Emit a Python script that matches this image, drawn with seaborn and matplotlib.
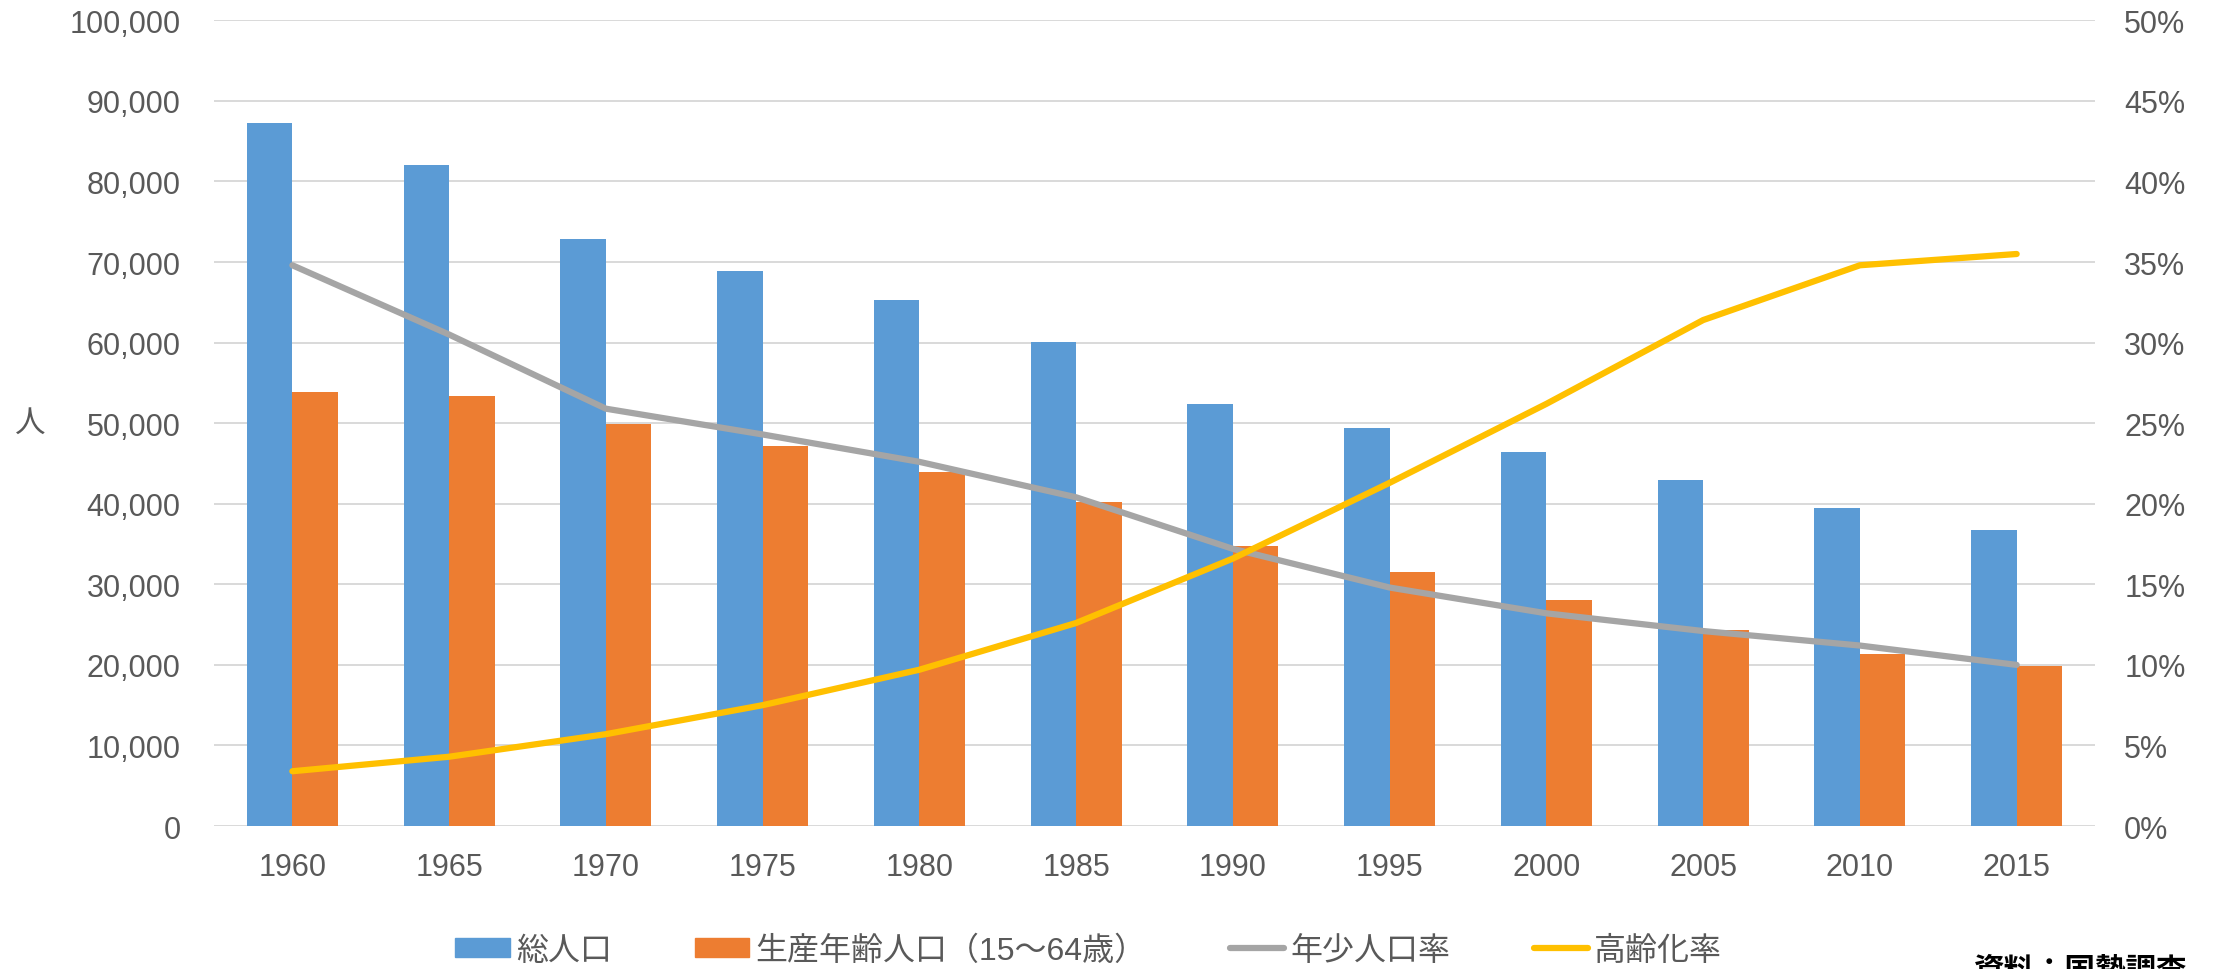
import numpy as np
import pandas as pd
import matplotlib
matplotlib.use("Agg")
import matplotlib.pyplot as plt
import matplotlib.patches as mpatches
from matplotlib.lines import Line2D
from matplotlib.legend_handler import HandlerPatch
from matplotlib.ticker import FuncFormatter, MultipleLocator
import seaborn as sns

# ---- data ----
years = ["1960", "1965", "1970", "1975", "1980", "1985",
         "1990", "1995", "2000", "2005", "2010", "2015"]
total_pop = [87300, 82100, 72900, 68900, 65300, 60100,
             52400, 49400, 46400, 42950, 39500, 36750]
working_pop = [53850, 53350, 49900, 47150, 43960, 40250,
               34800, 31550, 28050, 24330, 21350, 19900]
youth_ratio = [0.348, 0.305, 0.259, 0.243, 0.226, 0.204,
               0.172, 0.148, 0.132, 0.121, 0.112, 0.100]
aging_ratio = [0.034, 0.043, 0.057, 0.075, 0.097, 0.126,
               0.166, 0.213, 0.262, 0.314, 0.348, 0.355]

series_names = ["総人口", "生産年齢人口（15〜64歳）", "年少人口率", "高齢化率"]
bar_colors = ["#5B9BD5", "#ED7D31"]
line_colors = ["#A5A5A5", "#FFC000"]

sns.set_theme(style="white")
plt.rcParams["font.family"] = ["Liberation Sans", "Noto Sans CJK JP", "DejaVu Sans"]

text_color = "#595959"
grid_color = "#D9D9D9"
fs = 22
legend_fs = 23

df = pd.DataFrame({
    "year": years * 2,
    "value": total_pop + working_pop,
    "series": [series_names[0]] * len(years) + [series_names[1]] * len(years),
})

fig = plt.figure(figsize=(22.13, 9.70), dpi=100)
ax = fig.add_axes([0.0967, 0.1474, 0.85, 0.8306])

sns.barplot(data=df, x="year", y="value", hue="series", palette=bar_colors,
            width=0.58, gap=0, saturation=1, legend=False, linewidth=0,
            edgecolor="none", ax=ax)
ax.set_xlim(-0.5, len(years) - 0.5)
ax.set_ylim(0, 100000)
ax.yaxis.set_major_locator(MultipleLocator(10000))
ax.yaxis.set_major_formatter(FuncFormatter(lambda v, p: f"{v:,.0f}"))
ax.set_axisbelow(True)
ax.yaxis.grid(True, color=grid_color, linewidth=1.4)
ax.xaxis.grid(False)
ax.set_xlabel("")
ax.set_ylabel("人", rotation=0, fontsize=fs, color=text_color, labelpad=28, va="center")
ax.tick_params(axis="y", length=0, pad=24, labelsize=fs, labelcolor=text_color)
ax.tick_params(axis="x", length=0, pad=19, labelsize=fs, labelcolor=text_color)
for s in ax.spines.values():
    s.set_visible(False)

ax2 = ax.twinx()
xpos = np.arange(len(years))
sns.lineplot(x=xpos, y=youth_ratio, color=line_colors[0], linewidth=4.5,
             solid_capstyle="round", ax=ax2)
sns.lineplot(x=xpos, y=aging_ratio, color=line_colors[1], linewidth=4.5,
             solid_capstyle="round", ax=ax2)
ax2.set_ylim(0, 0.5)
ax2.yaxis.set_major_locator(MultipleLocator(0.05))
ax2.yaxis.set_major_formatter(FuncFormatter(lambda v, p: f"{v * 100:.0f}%"))
ax2.tick_params(axis="y", length=0, pad=21, labelsize=fs, labelcolor=text_color)
ax2.grid(False)
for s in ax2.spines.values():
    s.set_visible(False)
ax.set_xlim(-0.5, len(years) - 0.5)


def flat_patch(legend, orig_handle, xdescent, ydescent, width, height, fontsize):
    return mpatches.Rectangle((-xdescent, -ydescent), width, height)


handles = [
    mpatches.Patch(color=bar_colors[0], label=series_names[0]),
    mpatches.Patch(color=bar_colors[1], label=series_names[1]),
    Line2D([], [], color=line_colors[0], lw=4.5, solid_capstyle="round", label=series_names[2]),
    Line2D([], [], color=line_colors[1], lw=4.5, solid_capstyle="round", label=series_names[3]),
]
leg = fig.legend(handles=handles, loc="center", bbox_to_anchor=(0.492, 0.019), ncol=4,
                 frameon=False, fontsize=legend_fs, handlelength=1.7, handleheight=0.55,
                 handletextpad=0.2, columnspacing=2.6,
                 handler_map={mpatches.Patch: HandlerPatch(patch_func=flat_patch)})
for t in leg.get_texts():
    t.set_color(text_color)

fig.text(0.892, 1 - 957 / 970, "資料：国勢調査", fontsize=fs, color="black",
         fontweight="bold", ha="left", va="top")

fig.savefig("out.png", dpi=100)
